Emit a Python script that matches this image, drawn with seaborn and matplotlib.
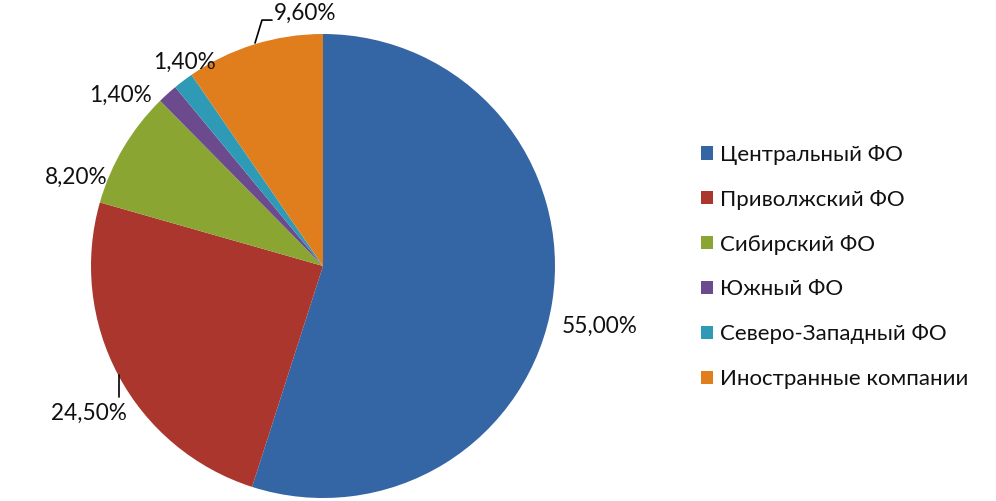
import numpy as np
import matplotlib
matplotlib.use("Agg")
import matplotlib.pyplot as plt
import seaborn as sns

categories = ["Центральный ФО", "Приволжский ФО", "Сибирский ФО",
              "Южный ФО", "Северо-Западный ФО", "Иностранные компании"]
shares = [55.0, 24.5, 8.2, 1.4, 1.4, 9.6]
labels = ["55,00%", "24,50%", "8,20%", "1,40%", "1,40%", "9,60%"]
colors = ["#3465A4", "#AA362E", "#8BA532", "#6C4A8E", "#2E9AB5", "#E07D1C"]

sns.set_theme(style="white")
plt.rcParams['font.family'] = ['Lato', 'DejaVu Sans']

W, H = 996, 501
fig = plt.figure(figsize=(W / 100, H / 100), dpi=100)
cx, cy, R = 323, 266, 232
ax = fig.add_axes([(cx - R) / W, (H - cy - R) / H, 2 * R / W, 2 * R / H])

wedges, _ = ax.pie(shares, colors=colors, startangle=90, counterclock=False,
                   radius=1, wedgeprops=dict(linewidth=0))
ax.set_xlim(-1, 1)
ax.set_ylim(-1, 1)
ax.set_aspect('equal')
ax.axis('off')

# label placement: (radial distance, angle nudge in degrees)
place = [(1.22, -3.5), (1.19, 4.0), (1.13, 11.0), (1.14, 7.8), (1.06, -2.8), (1.09, -13.1)]
for w, lab, (dist, nudge) in zip(wedges, labels, place):
    ang = np.deg2rad((w.theta1 + w.theta2) / 2 + nudge)
    ax.text(dist * np.cos(ang), dist * np.sin(ang), lab, ha='center', va='center',
            fontsize=16.3, color='#111111', clip_on=False)

# leader lines
ax.plot([-0.879, -0.879], [-0.47, -0.565], color='black', lw=1.2, clip_on=False)
ax.plot([-0.293, -0.263, -0.22], [0.961, 1.06, 1.06], color='black', lw=1.2, clip_on=False)

leg = fig.legend(wedges, categories, loc='center left',
                 bbox_to_anchor=(690 / W, 1 - 267 / H), frameon=False,
                 fontsize=16, handlelength=0.55, handleheight=0.55,
                 handletextpad=0.32, labelspacing=1.12, borderpad=0)
for t in leg.get_texts():
    t.set_color('#111111')

fig.savefig("out.png", dpi=100, facecolor='white')
